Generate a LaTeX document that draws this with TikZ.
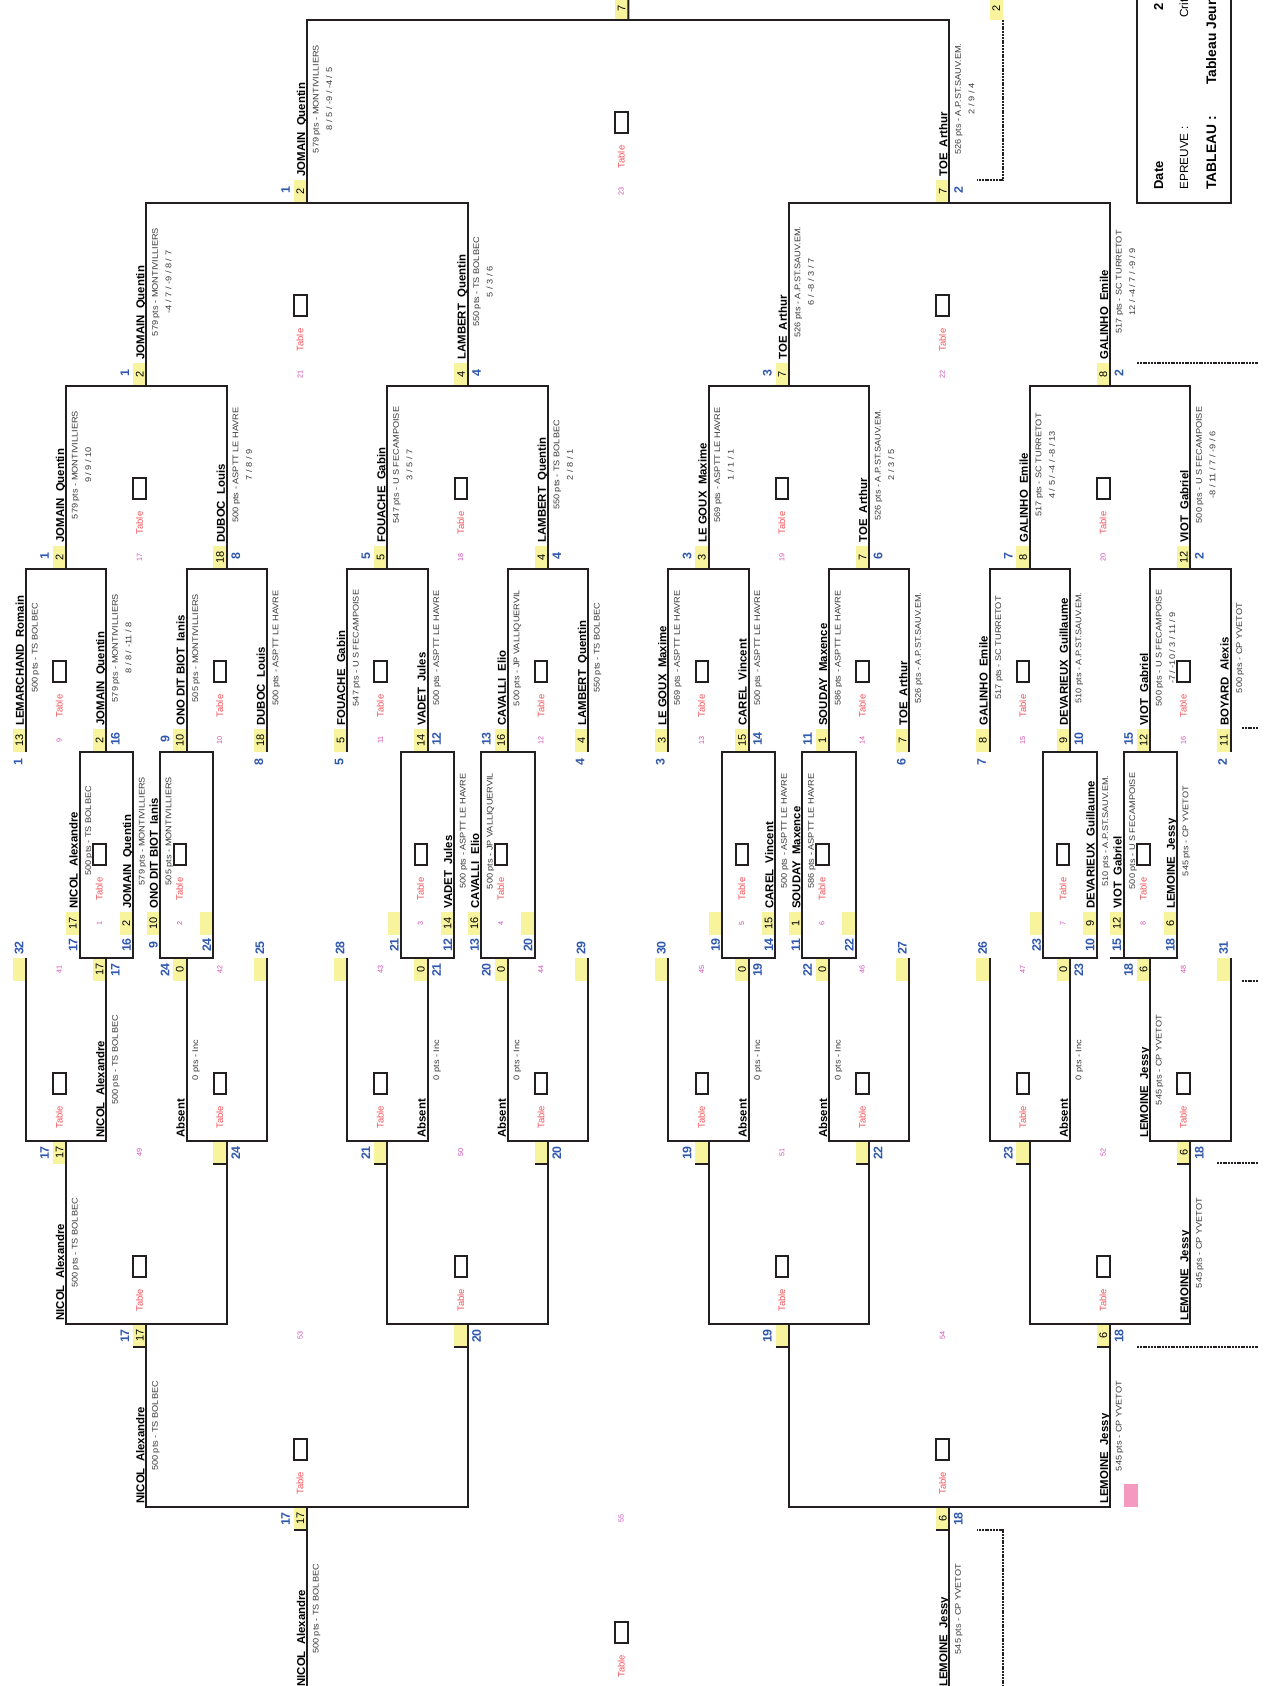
\documentclass[tikz,border=0pt]{standalone}
\usepackage{fontspec}
\setmainfont{Liberation Sans}
\definecolor{cLine}{HTML}{231F20}
\definecolor{cSeed}{HTML}{F8F49E}
\definecolor{cPos}{HTML}{2F58AE}
\definecolor{cTab}{HTML}{F2535A}
\definecolor{cNum}{HTML}{D04FB4}
\definecolor{cClub}{HTML}{3A3A3A}
\definecolor{cPink}{HTML}{F49AC1}
\usepackage{tikz}
\usetikzlibrary{positioning,calc}

% main draw match: #1 number, #2/#3 x of both players, #4 y where the players start
\newcommand{\mM}[4]{%
  \coordinate (m#1a) at (#2,#4);
  \coordinate (m#1b) at (#2,{#4-183});
  \coordinate (m#1c) at (#3,{#4-183});
  \coordinate (m#1d) at (#3,#4);
  \draw[ln] (m#1a) -- (m#1b) -- (m#1c) -- (m#1d);
  \pgfmathsetmacro\mmid{(#2+#3)/2}
  \node[tbox] (t#1) at ({\mmid-6.75},{#4-80.5}) {};
  \node[tlab] (tl#1) at ({\mmid-7},{#4-46}) {Table};
  \node[mnum] (n#1) at ({\mmid-7},{#4-12}) {#1};}
% classement match, drawn downwards from #4
\newcommand{\mC}[4]{%
  \coordinate (m#1a) at (#2,#4);
  \coordinate (m#1b) at (#2,{#4+183});
  \coordinate (m#1c) at (#3,{#4+183});
  \coordinate (m#1d) at (#3,#4);
  \draw[ln] (m#1a) -- (m#1b) -- (m#1c) -- (m#1d);
  \pgfmathsetmacro\mmid{(#2+#3)/2}
  \node[tbox] (t#1) at ({\mmid-6.75},{#4+125.5}) {};
  \node[tlab] (tl#1) at ({\mmid-7},{#4+159}) {Table};
  \node[mnum] (n#1) at ({\mmid-7},{#4+11}) {#1};}
% first round box centred on #2
\newcommand{\mP}[2]{%
  \draw[ln] ({#2-26.7},752) rectangle ({#2+26.7},958);
  \node[tbox] (t#1) at ({#2-6.75},854.5) {};
  \node[tlab] (tl#1) at ({#2-7},889) {Table};
  \node[mnum] (n#1) at ({#2-7},923) {#1};}
% seed cell above y (#3) / below y, with position number shifted by #6,#7
\newcommand{\sdM}[7]{%
  \node[seedbox] (#1) at ({#2-6.65},{#3-11.5}) {#4};
  \node[posn] (#1p) at ({#2+#6},{#3+#7}) {#5};}
\newcommand{\sdC}[7]{%
  \node[seedbox] (#1) at ({#2-6.65},{#3+11.5}) {#4};
  \node[posn] (#1p) at ({#2+#6},{#3+#7}) {#5};}
\newcommand{\sdCl}[7]{%
  \sdC{#1}{#2}{#3}{#4}{#5}{#6}{#7}
  \draw[ln] ({#2-13.3},{#3+23}) -- (#2,{#3+23});}
% player texts
\newcommand{\whM}[6]{%
  \node[nm] (#1n) at ({#2-2},{#3-26}) {#4};
  \node[club] (#1c) at ({#2+11.5},{#3-104}) {#5};
  \node[club] (#1s) at ({#2+25},{#3-104}) {#6};}
\newcommand{\whC}[5]{%
  \node[nm] (#1n) at ({#2-2},{#3+180}) {#4};
  \node[club] (#1c) at ({#2+11.5},{#3+102}) {#5};}

\begin{document}
\begin{tikzpicture}[x=0.5pt,y=-0.5pt,
    ln/.style={line width=1pt,draw=cLine},
    dotl/.style={line width=1pt,draw=cLine,dash pattern=on 1pt off 0.4pt},
    seedbox/.style={fill=cSeed,rotate=90,minimum width=11.5pt,minimum height=6.65pt,
                    inner sep=0pt,font=\fontsize{5.5}{6}\selectfont},
    posn/.style={rotate=90,inner sep=0pt,text=cPos,font=\fontsize{6.2}{7}\selectfont\bfseries},
    nm/.style={rotate=90,anchor=base west,inner sep=0pt,font=\fontsize{5.7}{6}\selectfont\bfseries},
    club/.style={rotate=90,xscale=1.12,anchor=base,inner sep=0pt,text=cClub,
                 font=\fontsize{4.1}{5}\selectfont},
    tbox/.style={draw=cLine,line width=1pt,minimum width=6.25pt,minimum height=10.5pt,inner sep=0pt},
    tlab/.style={rotate=90,inner sep=0pt,text=cTab,font=\fontsize{4.7}{5}\selectfont},
    mnum/.style={rotate=90,inner sep=0pt,text=cNum,font=\fontsize{3.6}{4}\selectfont},
    hdr/.style={rotate=90,anchor=base west,inner sep=0pt,font=\fontsize{6.5}{7}\selectfont\bfseries},
    hdl/.style={rotate=90,anchor=base west,inner sep=0pt,font=\fontsize{5.9}{7}\selectfont}]
  \useasboundingbox (0,0) rectangle (1271,1686);
  \fill[white] (0,0) rectangle (1271,1686);
  \clip (0,0) rectangle (1271,1686);

  % tableau principal
  \sdM{a0}{26}{752}{13}{1}{-8}{10}
  \whM{a0}{26}{752}{LEMARCHAND~~Romain}{500 pts - TS BOLBEC}{}
  \sdM{a1}{106.3}{752}{2}{16}{9}{-13}
  \whM{a1}{106.3}{752}{JOMAIN~~Quentin}{579 pts - MONTIVILLIERS}{8 / 8 / -11 / 8}
  \sdM{a2}{186.6}{752}{10}{9}{-21.5}{-13}
  \whM{a2}{186.6}{752}{ONO DIT BIOT~~Ianis}{505 pts - MONTIVILLIERS}{}
  \sdM{a3}{266.9}{752}{18}{8}{-8}{10}
  \whM{a3}{266.9}{752}{DUBOC~~Louis}{500 pts - ASPTT LE HAVRE}{}
  \sdM{a4}{347.2}{752}{5}{5}{-8}{10}
  \whM{a4}{347.2}{752}{FOUACHE~~Gabin}{547 pts - U S FECAMPOISE}{}
  \sdM{a5}{427.5}{752}{14}{12}{9}{-13}
  \whM{a5}{427.5}{752}{VADET~~Jules}{500 pts - ASPTT LE HAVRE}{}
  \sdM{a6}{507.8}{752}{16}{13}{-21.5}{-13}
  \whM{a6}{507.8}{752}{CAVALLI~~Elio}{500 pts - JP VALLIQUERVIL}{}
  \sdM{a7}{588.1}{752}{4}{4}{-8}{10}
  \whM{a7}{588.1}{752}{LAMBERT~~Quentin}{550 pts - TS BOLBEC}{}
  \sdM{a8}{668.4}{752}{3}{3}{-8}{10}
  \whM{a8}{668.4}{752}{LE GOUX~~Maxime}{569 pts - ASPTT LE HAVRE}{}
  \sdM{a9}{748.7}{752}{15}{14}{9}{-13}
  \whM{a9}{748.7}{752}{CAREL~~Vincent}{500 pts - ASPTT LE HAVRE}{}
  \sdM{a10}{829}{752}{1}{11}{-21.5}{-13}
  \whM{a10}{829}{752}{SOUDAY~~Maxence}{586 pts - ASPTT LE HAVRE}{}
  \sdM{a11}{909.3}{752}{7}{6}{-8}{10}
  \whM{a11}{909.3}{752}{TOE~~Arthur}{526 pts - A.P.ST.SAUV.EM.}{}
  \sdM{a12}{989.6}{752}{8}{7}{-8}{10}
  \whM{a12}{989.6}{752}{GALINHO~~Emile}{517 pts - SC TURRETOT}{}
  \sdM{a13}{1069.9}{752}{9}{10}{9}{-13}
  \whM{a13}{1069.9}{752}{DEVARIEUX~~Guillaume}{510 pts - A.P.ST.SAUV.EM.}{}
  \sdM{a14}{1150.2}{752}{12}{15}{-21.5}{-13}
  \whM{a14}{1150.2}{752}{VIOT~~Gabriel}{500 pts - U S FECAMPOISE}{-7 / -10 / 3 / 11 / 9}
  \sdM{a15}{1230.5}{752}{11}{2}{-8}{10}
  \whM{a15}{1230.5}{752}{BOYARD~~Alexis}{500 pts - CP YVETOT}{}

  \sdM{q0}{66.15}{569}{2}{1}{-21.5}{-13}
  \whM{q0}{66.15}{569}{JOMAIN~~Quentin}{579 pts - MONTIVILLIERS}{9 / 9 / 10}
  \sdM{q1}{226.75}{569}{18}{8}{9}{-13}
  \whM{q1}{226.75}{569}{DUBOC~~Louis}{500 pts - ASPTT LE HAVRE}{7 / 8 / 9}
  \sdM{q2}{387.35}{569}{5}{5}{-21.5}{-13}
  \whM{q2}{387.35}{569}{FOUACHE~~Gabin}{547 pts - U S FECAMPOISE}{3 / 5 / 7}
  \sdM{q3}{547.95}{569}{4}{4}{9}{-13}
  \whM{q3}{547.95}{569}{LAMBERT~~Quentin}{550 pts - TS BOLBEC}{2 / 8 / 1}
  \sdM{q4}{708.55}{569}{3}{3}{-21.5}{-13}
  \whM{q4}{708.55}{569}{LE GOUX~~Maxime}{569 pts - ASPTT LE HAVRE}{1 / 1 / 1}
  \sdM{q5}{869.15}{569}{7}{6}{9}{-13}
  \whM{q5}{869.15}{569}{TOE~~Arthur}{526 pts - A.P.ST.SAUV.EM.}{2 / 3 / 5}
  \sdM{q6}{1029.75}{569}{8}{7}{-21.5}{-13}
  \whM{q6}{1029.75}{569}{GALINHO~~Emile}{517 pts - SC TURRETOT}{4 / 5 / -4 / -8 / 13}
  \sdM{q7}{1190.35}{569}{12}{2}{9}{-13}
  \whM{q7}{1190.35}{569}{VIOT~~Gabriel}{500 pts - U S FECAMPOISE}{-8 / 11 / 7 / -9 / 6}

  \sdM{s0}{146.45}{386}{2}{1}{-21.5}{-13}
  \whM{s0}{146.45}{386}{JOMAIN~~Quentin}{579 pts - MONTIVILLIERS}{-4 / 7 / -9 / 8 / 7}
  \sdM{s1}{467.65}{386}{4}{4}{9}{-13}
  \whM{s1}{467.65}{386}{LAMBERT~~Quentin}{550 pts - TS BOLBEC}{5 / 3 / 6}
  \sdM{s2}{788.85}{386}{7}{3}{-21.5}{-13}
  \whM{s2}{788.85}{386}{TOE~~Arthur}{526 pts - A.P.ST.SAUV.EM.}{6 / -8 / 3 / 7}
  \sdM{s3}{1110.05}{386}{8}{2}{9}{-13}
  \whM{s3}{1110.05}{386}{GALINHO~~Emile}{517 pts - SC TURRETOT}{12 / -4 / 7 / -9 / 9}

  \sdM{f0}{307.05}{203}{2}{1}{-21.5}{-13}
  \whM{f0}{307.05}{203}{JOMAIN~~Quentin}{579 pts - MONTIVILLIERS}{8 / 5 / -9 / -4 / 5}
  \sdM{f1}{949.45}{203}{7}{2}{9}{-13}
  \whM{f1}{949.45}{203}{TOE~~Arthur}{526 pts - A.P.ST.SAUV.EM.}{2 / 9 / 4}
  \node[seedbox] (win) at (621.6,8.5) {7};
  \node[seedbox] (second) at (996.35,8.5) {2};

  % premier tour
  \sdM{p1l}{79.6}{935}{17}{17}{-6.5}{10}
  \whM{p1l}{79.6}{935}{NICOL~~Alexandre}{500 pts - TS BOLBEC}{}
  \sdM{p1r}{133}{935}{2}{16}{-6.5}{10}
  \whM{p1r}{133}{935}{JOMAIN~~Quentin}{579 pts - MONTIVILLIERS}{}
  \sdM{p2l}{159.9}{935}{10}{9}{-6.5}{10}
  \whM{p2l}{159.9}{935}{ONO DIT BIOT~~Ianis}{505 pts - MONTIVILLIERS}{}
  \sdM{p2r}{213.3}{935}{}{24}{-6.5}{10}
  \sdM{p3l}{400.8}{935}{}{21}{-6.5}{10}
  \sdM{p3r}{454.2}{935}{14}{12}{-6.5}{10}
  \whM{p3r}{454.2}{935}{VADET~~Jules}{500 pts - ASPTT LE HAVRE}{}
  \sdM{p4l}{481.1}{935}{16}{13}{-6.5}{10}
  \whM{p4l}{481.1}{935}{CAVALLI~~Elio}{500 pts - JP VALLIQUERVIL}{}
  \sdM{p4r}{534.5}{935}{}{20}{-6.5}{10}
  \sdM{p5l}{722}{935}{}{19}{-6.5}{10}
  \sdM{p5r}{775.4}{935}{15}{14}{-6.5}{10}
  \whM{p5r}{775.4}{935}{CAREL~~Vincent}{500 pts - ASPTT LE HAVRE}{}
  \sdM{p6l}{802.3}{935}{1}{11}{-6.5}{10}
  \whM{p6l}{802.3}{935}{SOUDAY~~Maxence}{586 pts - ASPTT LE HAVRE}{}
  \sdM{p6r}{855.7}{935}{}{22}{-6.5}{10}
  \sdM{p7l}{1043.2}{935}{}{23}{-6.5}{10}
  \sdM{p7r}{1096.6}{935}{9}{10}{-6.5}{10}
  \whM{p7r}{1096.6}{935}{DEVARIEUX~~Guillaume}{510 pts - A.P.ST.SAUV.EM.}{}
  \sdM{p8l}{1123.5}{935}{12}{15}{-6.5}{10}
  \whM{p8l}{1123.5}{935}{VIOT~~Gabriel}{500 pts - U S FECAMPOISE}{}
  \sdM{p8r}{1176.9}{935}{6}{18}{-6.5}{10}
  \whM{p8r}{1176.9}{935}{LEMOINE~~Jessy}{545 pts - CP YVETOT}{}

  % classement
  \sdC{k0}{26}{958}{}{32}{-7}{-10}
  \sdC{k1}{106.3}{958}{17}{17}{9}{12}
  \whC{k1}{106.3}{958}{NICOL~~Alexandre}{500 pts - TS BOLBEC}
  \sdC{k2}{186.6}{958}{0}{24}{-21.5}{12}
  \whC{k2}{186.6}{958}{Absent}{0 pts - Inc}
  \sdC{k3}{266.9}{958}{}{25}{-7}{-10}
  \sdC{k4}{347.2}{958}{}{28}{-7}{-10}
  \sdC{k5}{427.5}{958}{0}{21}{9}{12}
  \whC{k5}{427.5}{958}{Absent}{0 pts - Inc}
  \sdC{k6}{507.8}{958}{0}{20}{-21.5}{12}
  \whC{k6}{507.8}{958}{Absent}{0 pts - Inc}
  \sdC{k7}{588.1}{958}{}{29}{-7}{-10}
  \sdC{k8}{668.4}{958}{}{30}{-7}{-10}
  \sdC{k9}{748.7}{958}{0}{19}{9}{12}
  \whC{k9}{748.7}{958}{Absent}{0 pts - Inc}
  \sdC{k10}{829}{958}{0}{22}{-21.5}{12}
  \whC{k10}{829}{958}{Absent}{0 pts - Inc}
  \sdC{k11}{909.3}{958}{}{27}{-7}{-10}
  \sdC{k12}{989.6}{958}{}{26}{-7}{-10}
  \sdC{k13}{1069.9}{958}{0}{23}{9}{12}
  \whC{k13}{1069.9}{958}{Absent}{0 pts - Inc}
  \sdC{k14}{1150.2}{958}{6}{18}{-21.5}{12}
  \whC{k14}{1150.2}{958}{LEMOINE~~Jessy}{545 pts - CP YVETOT}
  \sdC{k15}{1230.5}{958}{}{31}{-7}{-10}

  \sdC{u0}{66.15}{1141}{17}{17}{-21.5}{12}
  \whC{u0}{66.15}{1141}{NICOL~~Alexandre}{500 pts - TS BOLBEC}
  \sdCl{u1}{226.75}{1141}{}{24}{9}{12}
  \sdCl{u2}{387.35}{1141}{}{21}{-21.5}{12}
  \sdCl{u3}{547.95}{1141}{}{20}{9}{12}
  \sdCl{u4}{708.55}{1141}{}{19}{-21.5}{12}
  \sdCl{u5}{869.15}{1141}{}{22}{9}{12}
  \sdCl{u6}{1029.75}{1141}{}{23}{-21.5}{12}
  \sdCl{u7}{1190.35}{1141}{6}{18}{9}{12}
  \whC{u7}{1190.35}{1141}{LEMOINE~~Jessy}{545 pts - CP YVETOT}

  \sdCl{v0}{146.45}{1324}{17}{17}{-21.5}{12}
  \whC{v0}{146.45}{1324}{NICOL~~Alexandre}{500 pts - TS BOLBEC}
  \sdCl{v1}{467.65}{1324}{}{20}{9}{12}
  \sdCl{v2}{788.85}{1324}{}{19}{-21.5}{12}
  \sdCl{v3}{1110.05}{1324}{6}{18}{9}{12}
  \whC{v3}{1110.05}{1324}{LEMOINE~~Jessy}{545 pts - CP YVETOT}

  \sdCl{w0}{307.05}{1507}{17}{17}{-21.5}{12}
  \whC{w0}{307.05}{1507}{NICOL~~Alexandre}{500 pts - TS BOLBEC}
  \sdCl{w1}{949.45}{1507}{6}{18}{9}{12}
  \whC{w1}{949.45}{1507}{LEMOINE~~Jessy}{545 pts - CP YVETOT}

  % lines
  \mM{9}{26}{106.3}{752}
  \mM{10}{186.6}{266.9}{752}
  \mM{11}{347.2}{427.5}{752}
  \mM{12}{507.8}{588.1}{752}
  \mM{13}{668.4}{748.7}{752}
  \mM{14}{829}{909.3}{752}
  \mM{15}{989.6}{1069.9}{752}
  \mM{16}{1150.2}{1230.5}{752}
  \mM{17}{66.15}{226.75}{569}
  \mM{18}{387.35}{547.95}{569}
  \mM{19}{708.55}{869.15}{569}
  \mM{20}{1029.75}{1190.35}{569}
  \mM{21}{146.45}{467.65}{386}
  \mM{22}{788.85}{1110.05}{386}
  \mM{23}{307.05}{949.45}{203}
  \coordinate (top) at (628.25,-5);
  \draw[ln] ($(m23b)!.5!(m23c)$) -- (top);

  \mP{1}{106.3}
  \mP{2}{186.6}
  \mP{3}{427.5}
  \mP{4}{507.8}
  \mP{5}{748.7}
  \mP{6}{829}
  \mP{7}{1069.9}
  \mP{8}{1150.2}
  \draw[ln] (1110,958) -- (1123.5,958);

  \mC{41}{26}{106.3}{958}
  \mC{42}{186.6}{266.9}{958}
  \mC{43}{347.2}{427.5}{958}
  \mC{44}{507.8}{588.1}{958}
  \mC{45}{668.4}{748.7}{958}
  \mC{46}{829}{909.3}{958}
  \mC{47}{989.6}{1069.9}{958}
  \mC{48}{1150.2}{1230.5}{958}
  \mC{49}{66.15}{226.75}{1141}
  \mC{50}{387.35}{547.95}{1141}
  \mC{51}{708.55}{869.15}{1141}
  \mC{52}{1029.75}{1190.35}{1141}
  \mC{53}{146.45}{467.65}{1324}
  \mC{54}{788.85}{1110.05}{1324}
  \mC{55}{307.05}{949.45}{1507}
  \fill[cPink] (1124,1484) rectangle (1138,1507);

  % pointillés
  \coordinate (d1) at (1003,20);
  \coordinate (d2) at (1003,180);
  \coordinate (d3) at (977,180);
  \draw[dotl] (d1) -- (d2) -- (d3);
  \coordinate (e1) at (1003,1690);
  \coordinate (e2) at (1003,1530);
  \coordinate (e3) at (977,1530);
  \draw[dotl] (e1) -- (e2) -- (e3);
  \draw[dotl] (1137,363) -- (1258,363);
  \draw[dotl] (1242,728) -- (1258,728);
  \draw[dotl] (1242,981) -- (1258,981);
  \draw[dotl] (1217,1163) -- (1258,1163);
  \draw[dotl] (1137,1347) -- (1258,1347);

  % cartouche
  \draw[line width=1.25pt,draw=cLine] (1137,-10) rectangle (1231,203);
  \node[hdr] (date) at (1163,190) {Date};
  \node[hdl] (epreuve) at (1188,190) {EPREUVE :};
  \node[hdr,font=\fontsize{6.9}{7}\selectfont\bfseries] (tableau) at (1216,190) {TABLEAU :};
  \node[hdr] (dateV) at (1163,11) {2 j};
  \node[hdl] (epreuveV) at (1188,18) {Crit};
  \node[hdr,font=\fontsize{6.9}{7}\selectfont\bfseries] (tableauV) at (1216,85) {Tableau Jeun};
\end{tikzpicture}
\end{document}
